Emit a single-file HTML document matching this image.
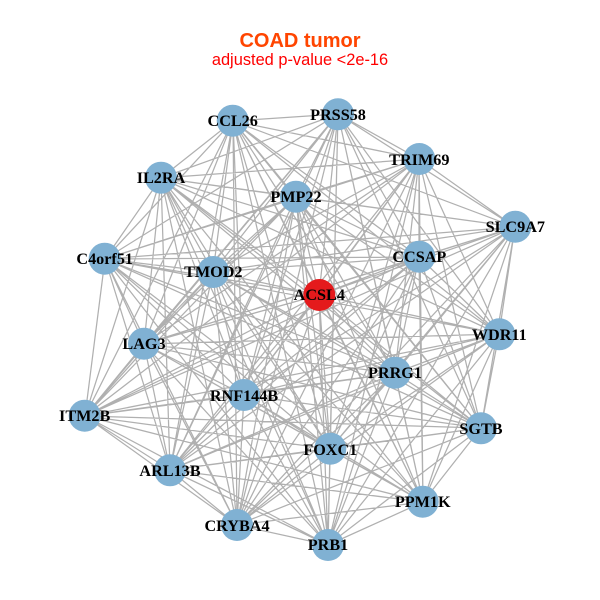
<!DOCTYPE html>
<html><head><meta charset="utf-8"><style>html,body{margin:0;padding:0;background:#fff}svg{display:block}</style></head><body>
<svg width="600" height="600" viewBox="0 0 600 600" xmlns="http://www.w3.org/2000/svg">
<rect width="600" height="600" fill="#fff"/>
<path fill="none" stroke="#b0b0b0" stroke-width="1.25" stroke-linejoin="round" d="
M233 121 338 114 233 121 419 159 233 121 515 227 233 121 419 257 233 121 296 197 233 121 161 178 233 121 105 259 233 121 213 272 233 121 319 295 233 121 144 344 233 121 499 334 233 121 395 373 233 121 244 395 233 121 85 416 233 121 481 428 233 121 330 449 233 121 170 470 233 121 423 502 233 121 237 525 233 121 328 545
M338 114 419 159 338 114 515 227 338 114 419 257 338 114 296 197 338 114 161 178 338 114 105 259 338 114 213 272 338 114 319 295 338 114 144 344 338 114 499 334 338 114 395 373 338 114 244 395 338 114 85 416 338 114 481 428 338 114 330 449 338 114 170 470 338 114 423 502 338 114 237 525 338 114 328 545
M419 159 515 227 419 159 419 257 419 159 296 197 419 159 161 178 419 159 105 259 419 159 213 272 419 159 319 295 419 159 144 344 419 159 499 334 419 159 395 373 419 159 244 395 419 159 85 416 419 159 481 428 419 159 330 449 419 159 170 470 419 159 423 502 419 159 237 525 419 159 328 545
M515 227 419 257 515 227 296 197 515 227 161 178 515 227 105 259 515 227 213 272 515 227 319 295 515 227 144 344 515 227 499 334 515 227 395 373 515 227 244 395 515 227 85 416 515 227 481 428 515 227 330 449 515 227 170 470 515 227 423 502 515 227 237 525 515 227 328 545
M419 257 296 197 419 257 161 178 419 257 105 259 419 257 213 272 419 257 319 295 419 257 144 344 419 257 499 334 419 257 395 373 419 257 244 395 419 257 85 416 419 257 481 428 419 257 330 449 419 257 170 470 419 257 423 502 419 257 237 525 419 257 328 545
M296 197 161 178 296 197 105 259 296 197 213 272 296 197 319 295 296 197 144 344 296 197 499 334 296 197 395 373 296 197 244 395 296 197 85 416 296 197 481 428 296 197 330 449 296 197 170 470 296 197 423 502 296 197 237 525 296 197 328 545
M161 178 105 259 161 178 213 272 161 178 319 295 161 178 144 344 161 178 499 334 161 178 395 373 161 178 244 395 161 178 85 416 161 178 481 428 161 178 330 449 161 178 170 470 161 178 423 502 161 178 237 525 161 178 328 545
M105 259 213 272 105 259 319 295 105 259 144 344 105 259 499 334 105 259 395 373 105 259 244 395 105 259 85 416 105 259 481 428 105 259 330 449 105 259 170 470 105 259 423 502 105 259 237 525 105 259 328 545
M213 272 319 295 213 272 144 344 213 272 499 334 213 272 395 373 213 272 244 395 213 272 85 416 213 272 481 428 213 272 330 449 213 272 170 470 213 272 423 502 213 272 237 525 213 272 328 545
M319 295 144 344 319 295 499 334 319 295 395 373 319 295 244 395 319 295 85 416 319 295 481 428 319 295 330 449 319 295 170 470 319 295 423 502 319 295 237 525 319 295 328 545
M144 344 499 334 144 344 395 373 144 344 244 395 144 344 85 416 144 344 481 428 144 344 330 449 144 344 170 470 144 344 423 502 144 344 237 525 144 344 328 545
M499 334 395 373 499 334 244 395 499 334 85 416 499 334 481 428 499 334 330 449 499 334 170 470 499 334 423 502 499 334 237 525 499 334 328 545
M395 373 244 395 395 373 85 416 395 373 481 428 395 373 330 449 395 373 170 470 395 373 423 502 395 373 237 525 395 373 328 545
M244 395 85 416 244 395 481 428 244 395 330 449 244 395 170 470 244 395 423 502 244 395 237 525 244 395 328 545
M85 416 481 428 85 416 330 449 85 416 170 470 85 416 423 502 85 416 237 525 85 416 328 545
M481 428 330 449 481 428 170 470 481 428 423 502 481 428 237 525 481 428 328 545
M330 449 170 470 330 449 423 502 330 449 237 525 330 449 328 545
M170 470 423 502 170 470 237 525 170 470 328 545
M423 502 237 525 423 502 328 545
M237 525 328 545"/>
<g fill="#80b1d3">
<circle cx="232.7" cy="120.7" r="16"/><circle cx="338" cy="114.3" r="16"/><circle cx="419.3" cy="159" r="16"/><circle cx="515.3" cy="226.7" r="16"/><circle cx="419.3" cy="256.7" r="16"/><circle cx="296" cy="196.7" r="16"/><circle cx="161" cy="177.7" r="16"/><circle cx="104.7" cy="258.7" r="16"/><circle cx="213.3" cy="272" r="16"/><circle cx="144" cy="343.7" r="16"/><circle cx="499.3" cy="334.3" r="16"/><circle cx="395" cy="372.7" r="16"/><circle cx="244" cy="395" r="16"/><circle cx="84.7" cy="415.7" r="16"/><circle cx="481" cy="428.3" r="16"/><circle cx="330.3" cy="448.7" r="16"/><circle cx="170" cy="470.3" r="16"/><circle cx="422.7" cy="501.7" r="16"/><circle cx="237" cy="525" r="16"/><circle cx="328" cy="545" r="16"/>
</g>
<circle cx="319.3" cy="295" r="16" fill="#e41a1c"/>
<g font-family="'Liberation Serif',serif" font-weight="bold" font-size="16.2" fill="#000" text-anchor="middle">
<text x="232.7" y="126">CCL26</text><text x="338" y="120">PRSS58</text><text x="419.3" y="165">TRIM69</text><text x="515.3" y="232">SLC9A7</text><text x="419.3" y="262">CCSAP</text><text x="296" y="202">PMP22</text><text x="161" y="183">IL2RA</text><text x="104.7" y="264">C4orf51</text><text x="213.3" y="277">TMOD2</text><text x="319.3" y="300">ACSL4</text><text x="144" y="349">LAG3</text><text x="499.3" y="340">WDR11</text><text x="395" y="378">PRRG1</text><text x="244" y="401">RNF144B</text><text x="84.7" y="421">ITM2B</text><text x="481" y="434">SGTB</text><text x="330.3" y="455">FOXC1</text><text x="170" y="476">ARL13B</text><text x="422.7" y="507">PPM1K</text><text x="237" y="531">CRYBA4</text><text x="328" y="550">PRB1</text>
</g>
<g font-family="'Liberation Sans',sans-serif" text-anchor="middle">
<text x="300" y="47" font-size="20" font-weight="bold" fill="#ff4500">COAD tumor</text>
<text x="300" y="65" font-size="16.4" fill="#ff0000">adjusted p-value &lt;2e-16</text>
</g>
</svg>
</body></html>
